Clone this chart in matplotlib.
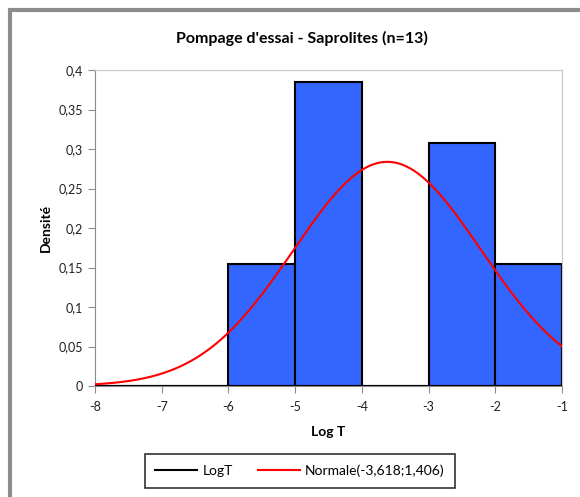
import numpy as np
import matplotlib.pyplot as plt
from matplotlib.patches import Rectangle

# Histogram bins (Log T) and densities, n=13
bin_edges = [-8, -7, -6, -5, -4, -3, -2, -1]
densities = [0.0, 0.0, 0.1538, 0.3846, 0.0, 0.3077, 0.1538]

# Fitted normal law from the legend
mu = -3.618
sigma = 1.406

title = "Pompage d'essai - Saprolites (n=13)"
x_ticks = [-8, -7, -6, -5, -4, -3, -2, -1]
y_ticks = [0, 0.05, 0.1, 0.15, 0.2, 0.25, 0.3, 0.35, 0.4]
y_labels = ['0', '0,05', '0,1', '0,15', '0,2', '0,25', '0,3', '0,35', '0,4']

plt.rcParams['font.family'] = ['Lato', 'DejaVu Sans']

fig = plt.figure(figsize=(5.8, 4.97), dpi=100)
ax = fig.add_axes([95 / 580, 1 - 386 / 497, (562 - 95) / 580, (386 - 70) / 497])

# outer chart frame (cut off on the right / bottom like the screenshot)
fig.patches.append(Rectangle((10 / 580, -0.1), 1.2, 1 - 10 / 497 + 0.1,
                             transform=fig.transFigure, fill=False,
                             edgecolor='#8c8c8c', linewidth=3, zorder=0))

# bars
lefts = np.array(bin_edges[:-1])
widths = np.diff(bin_edges)
ax.bar(lefts, densities, width=widths, align='edge', color='#3366FF',
       edgecolor='black', linewidth=1.5, zorder=2)
# black histogram outline along the baseline (LogT series)
ax.plot([bin_edges[0], bin_edges[-1]], [0, 0], color='black', linewidth=1.5,
        zorder=3, label='LogT')

# normal curve
xs = np.linspace(bin_edges[0], bin_edges[-1], 300)
ys = np.exp(-0.5 * ((xs - mu) / sigma) ** 2) / (sigma * np.sqrt(2 * np.pi))
ax.plot(xs, ys, color='red', linewidth=1.5, zorder=4,
        label='Normale(-3,618;1,406)')

ax.set_xlim(-8, -1)
ax.set_ylim(0, 0.4)
ax.set_xticks(x_ticks)
ax.set_xticklabels([str(v) for v in x_ticks])
ax.set_yticks(y_ticks)
ax.set_yticklabels(y_labels)
ax.tick_params(direction='out', length=5, color='#8c8c8c', labelsize=9,
               labelcolor='#202020')
ax.tick_params(axis='x', pad=6)

for side in ['left', 'bottom']:
    ax.spines[side].set_color('#8c8c8c')
for side in ['top', 'right']:
    ax.spines[side].set_color('#c8c8c8')

ax.set_xlabel('Log T', fontsize=10, fontweight='bold', labelpad=9)
ax.set_ylabel('Densité', fontsize=10, fontweight='bold', labelpad=5)
fig.text(0.5 + 12 / 580, 1 - 38 / 497, title, ha='center', va='center',
         fontsize=11.5, fontweight='bold')

leg = fig.legend(loc='center', bbox_to_anchor=(300 / 580, 1 - 471 / 497),
                 ncol=2, frameon=True, fancybox=False, fontsize=10,
                 handlelength=3.0, handletextpad=0.4, columnspacing=1.8,
                 borderpad=0.75, borderaxespad=0)
leg.get_frame().set_edgecolor('black')
leg.get_frame().set_linewidth(1.2)

fig.savefig('out.png', dpi=100)
